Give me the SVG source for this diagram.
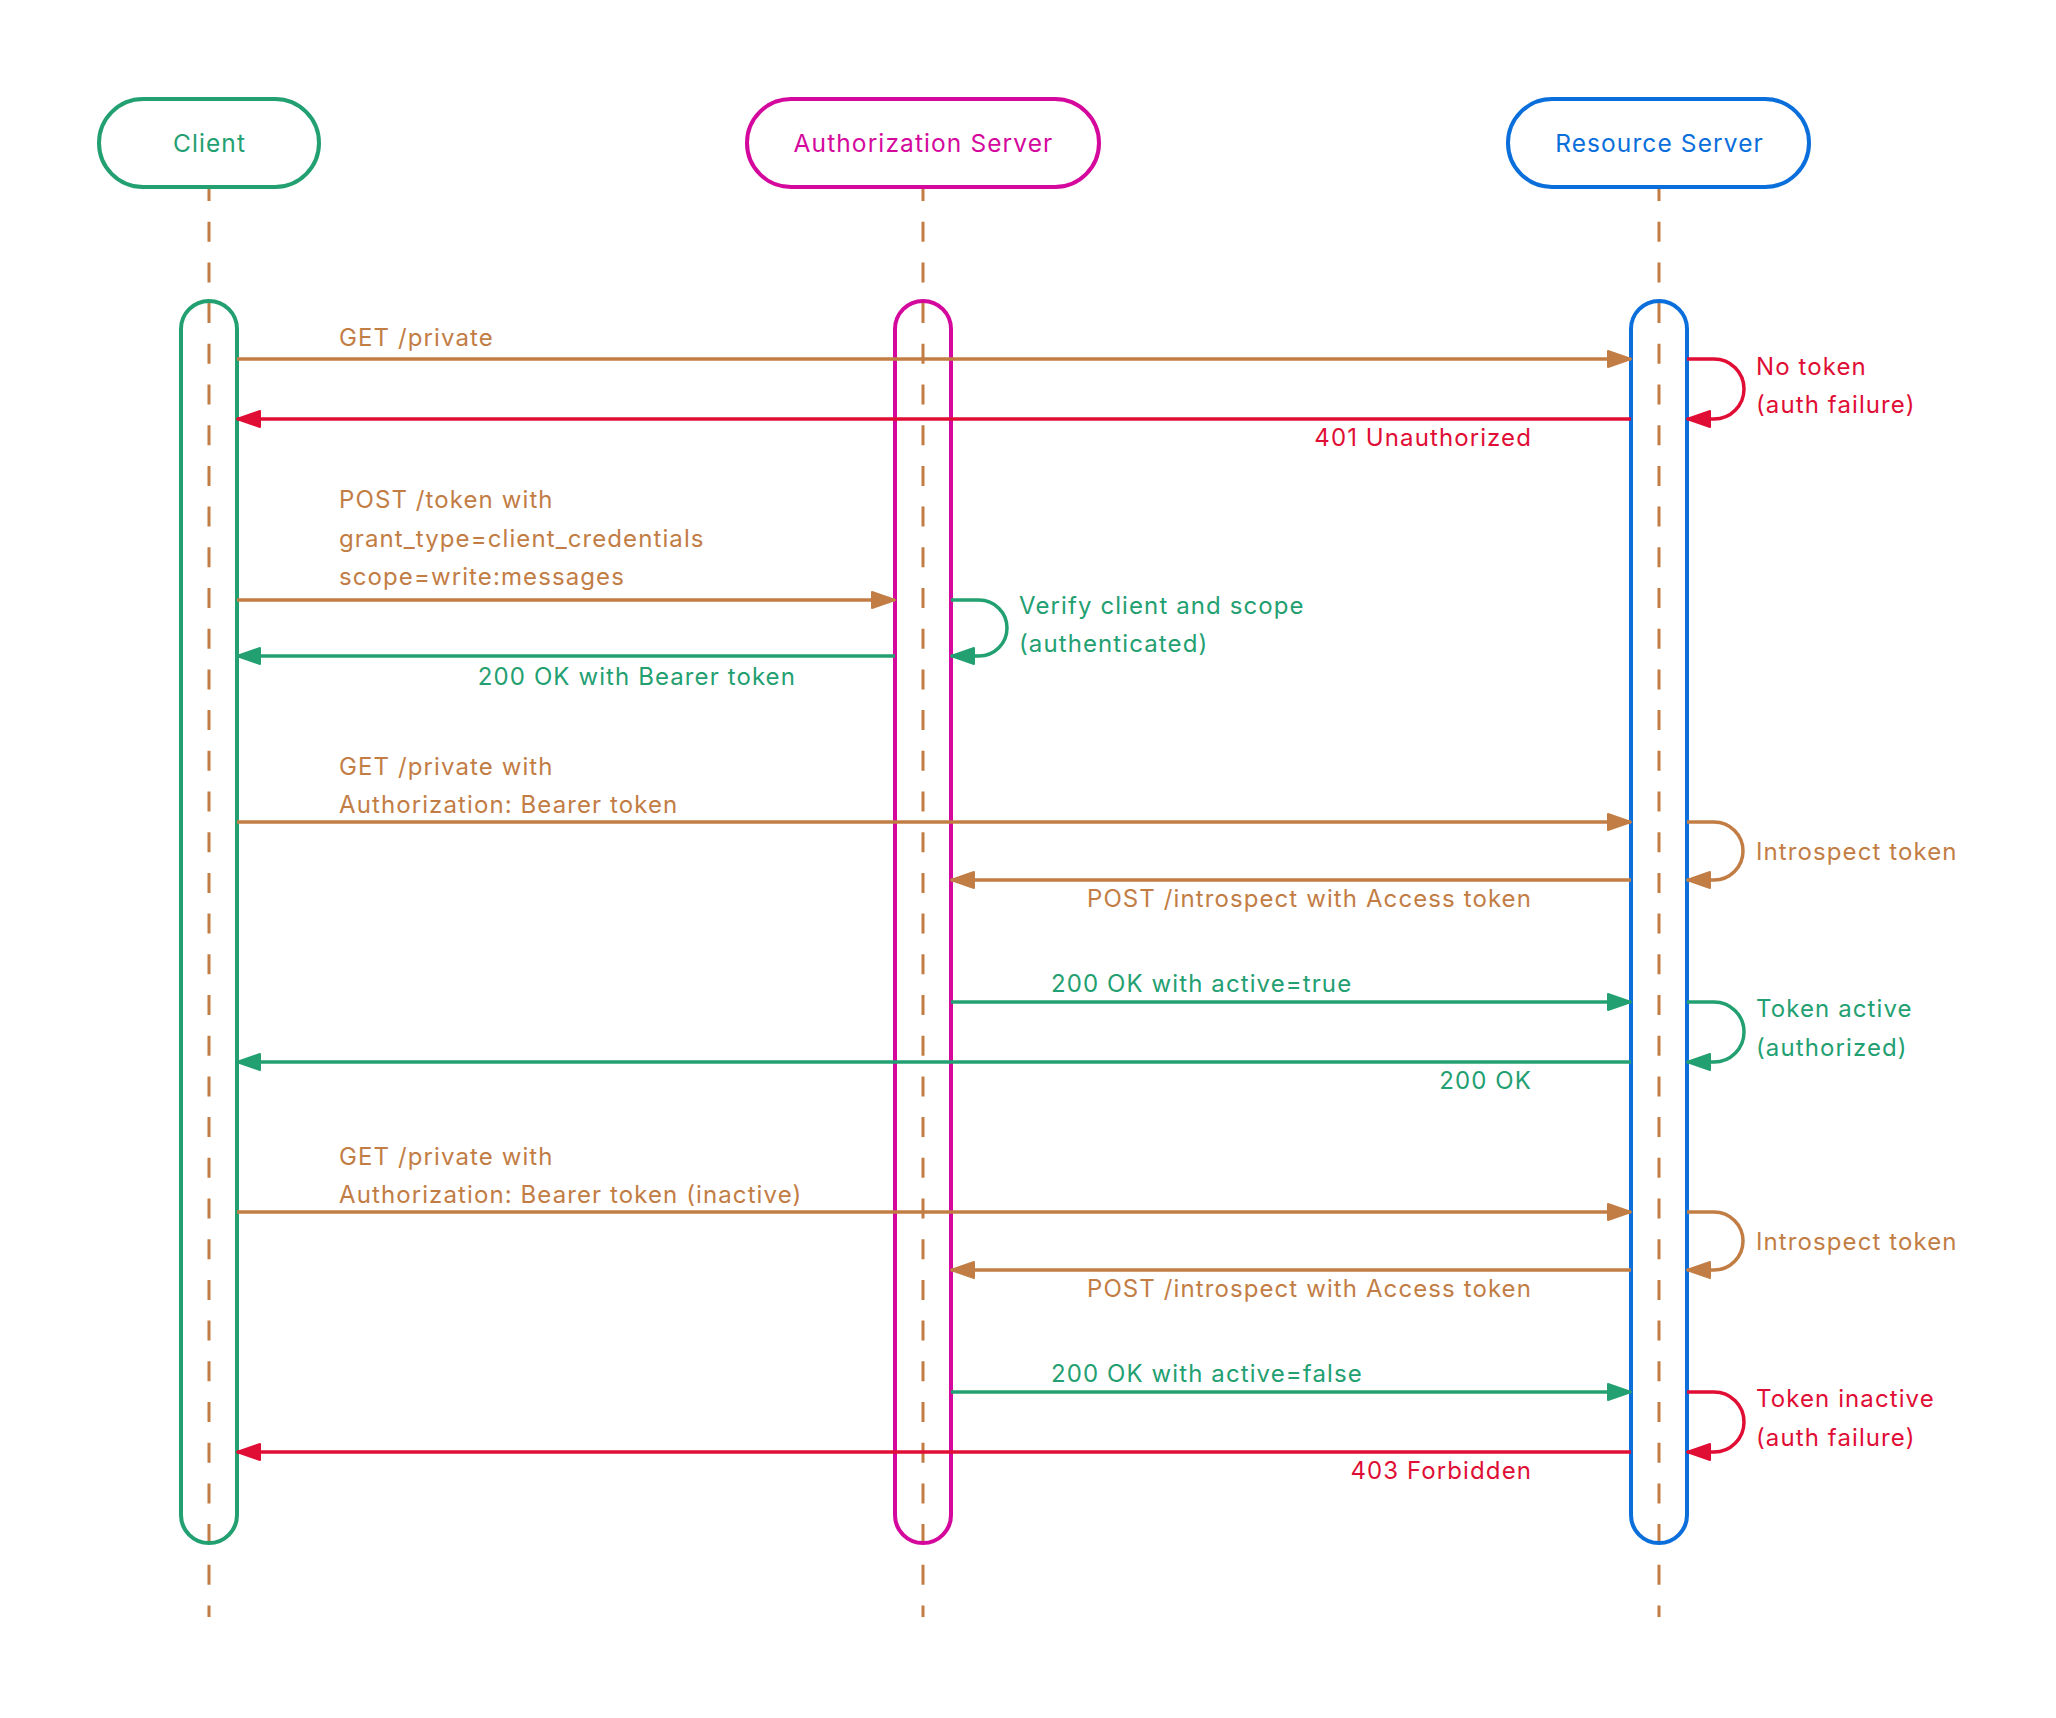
<svg xmlns="http://www.w3.org/2000/svg" width="2056" height="1718" viewBox="0 0 2056 1718">
  <style>
    text { font-family: Inter, "Noto Sans", "Liberation Sans", sans-serif; font-size: 24px; letter-spacing: 1.1px; }
    .head { font-size: 24.5px; text-anchor: middle; }
    .end { text-anchor: end; }
    .life { fill: none; stroke: #C27D45; stroke-width: 3; stroke-dasharray: 20 20.7; }
    .msg { fill: none; stroke-width: 3.5; }
    .o { stroke: #C27D45; }
    .g { stroke: #23A071; }
    .r { stroke: #E00D35; }
    .to { fill: #C27D45; }
    .tg { fill: #23A071; }
    .tr { fill: #E00D35; }
  </style>
  <defs>
    <marker id="ah-o" markerUnits="userSpaceOnUse" markerWidth="26" markerHeight="20" refX="24" refY="9" orient="auto" viewBox="-1 -1 26 20">
      <path d="M1,1 L24,9 L1,17 z" fill="#C27D45" stroke="#C27D45" stroke-width="2" stroke-linejoin="round"/>
    </marker>
    <marker id="ah-g" markerUnits="userSpaceOnUse" markerWidth="26" markerHeight="20" refX="24" refY="9" orient="auto" viewBox="-1 -1 26 20">
      <path d="M1,1 L24,9 L1,17 z" fill="#23A071" stroke="#23A071" stroke-width="2" stroke-linejoin="round"/>
    </marker>
    <marker id="ah-r" markerUnits="userSpaceOnUse" markerWidth="26" markerHeight="20" refX="24" refY="9" orient="auto" viewBox="-1 -1 26 20">
      <path d="M1,1 L24,9 L1,17 z" fill="#E00D35" stroke="#E00D35" stroke-width="2" stroke-linejoin="round"/>
    </marker>
  </defs>
  <rect width="2056" height="1718" fill="#FFFFFF"/>

  <!-- lifelines -->
  <g id="lifelines">
    <line class="life" x1="209" y1="181" x2="209" y2="1617"/>
    <line class="life" x1="923" y1="181" x2="923" y2="1617"/>
    <line class="life" x1="1659" y1="181" x2="1659" y2="1617"/>
  </g>

  <!-- participants -->
  <g id="client">
    <rect x="99" y="99" width="220" height="88" rx="44" fill="#FFFFFF" stroke="#23A071" stroke-width="4"/>
    <text class="head tg" x="209.5" y="152">Client</text>
    <rect x="181" y="301" width="56" height="1242" rx="28" fill="none" stroke="#23A071" stroke-width="4"/>
  </g>
  <g id="authorization-server">
    <rect x="747" y="99" width="352" height="88" rx="44" fill="#FFFFFF" stroke="#D4089C" stroke-width="4"/>
    <text class="head" x="923.5" y="152" fill="#D4089C">Authorization Server</text>
    <rect x="895" y="301" width="56" height="1242" rx="28" fill="none" stroke="#D4089C" stroke-width="4"/>
  </g>
  <g id="resource-server">
    <rect x="1508" y="99" width="301" height="88" rx="44" fill="#FFFFFF" stroke="#0A6FDB" stroke-width="4"/>
    <text class="head" x="1659.5" y="152" fill="#0A6FDB">Resource Server</text>
    <rect x="1631" y="301" width="56" height="1242" rx="28" fill="none" stroke="#0A6FDB" stroke-width="4"/>
  </g>

  <!-- messages -->
  <g id="connectors">
    <!-- 1: unauthenticated request -->
    <path class="msg o" d="M237,359 H1631" marker-end="url(#ah-o)"/>
    <path class="msg r" d="M1687,359 H1714 A30,30 0 0 1 1714,419 H1687" marker-end="url(#ah-r)"/>
    <path class="msg r" d="M1631,419 H237" marker-end="url(#ah-r)"/>

    <!-- 2: token request -->
    <path class="msg o" d="M237,600 H895" marker-end="url(#ah-o)"/>
    <path class="msg g" d="M951,600 H979 A28,28 0 0 1 979,656 H951" marker-end="url(#ah-g)"/>
    <path class="msg g" d="M895,656 H237" marker-end="url(#ah-g)"/>

    <!-- 3: request with active token -->
    <path class="msg o" d="M237,822 H1631" marker-end="url(#ah-o)"/>
    <path class="msg o" d="M1687,822 H1714 A29,29 0 0 1 1714,880 H1687" marker-end="url(#ah-o)"/>
    <path class="msg o" d="M1631,880 H951" marker-end="url(#ah-o)"/>
    <path class="msg g" d="M951,1002 H1631" marker-end="url(#ah-g)"/>
    <path class="msg g" d="M1687,1002 H1714 A30,30 0 0 1 1714,1062 H1687" marker-end="url(#ah-g)"/>
    <path class="msg g" d="M1631,1062 H237" marker-end="url(#ah-g)"/>

    <!-- 4: request with inactive token -->
    <path class="msg o" d="M237,1212 H1631" marker-end="url(#ah-o)"/>
    <path class="msg o" d="M1687,1212 H1714 A29,29 0 0 1 1714,1270 H1687" marker-end="url(#ah-o)"/>
    <path class="msg o" d="M1631,1270 H951" marker-end="url(#ah-o)"/>
    <path class="msg g" d="M951,1392 H1631" marker-end="url(#ah-g)"/>
    <path class="msg r" d="M1687,1392 H1714 A30,30 0 0 1 1714,1452 H1687" marker-end="url(#ah-r)"/>
    <path class="msg r" d="M1631,1452 H237" marker-end="url(#ah-r)"/>
  </g>

  <!-- message labels -->
  <g id="labels">
    <text class="to" x="339" y="346">GET /private</text>
    <text class="tr" x="1756" y="375">No token</text>
    <text class="tr" x="1756" y="413">(auth failure)</text>
    <text class="tr end" x="1532" y="446">401 Unauthorized</text>

    <text class="to" x="339" y="508">POST /token with</text>
    <text class="to" x="339" y="547">grant_type=client_credentials</text>
    <text class="to" x="339" y="585">scope=write:messages</text>
    <text class="tg" x="1019" y="614">Verify client and scope</text>
    <text class="tg" x="1019" y="652">(authenticated)</text>
    <text class="tg end" x="796" y="685">200 OK with Bearer token</text>

    <text class="to" x="339" y="775">GET /private with</text>
    <text class="to" x="339" y="813">Authorization: Bearer token</text>
    <text class="to" x="1756" y="860">Introspect token</text>
    <text class="to end" x="1532" y="907">POST /introspect with Access token</text>
    <text class="tg" x="1051" y="992">200 OK with active=true</text>
    <text class="tg" x="1756" y="1017">Token active</text>
    <text class="tg" x="1756" y="1056">(authorized)</text>
    <text class="tg end" x="1532" y="1089">200 OK</text>

    <text class="to" x="339" y="1165">GET /private with</text>
    <text class="to" x="339" y="1203">Authorization: Bearer token (inactive)</text>
    <text class="to" x="1756" y="1250">Introspect token</text>
    <text class="to end" x="1532" y="1297">POST /introspect with Access token</text>
    <text class="tg" x="1051" y="1382">200 OK with active=false</text>
    <text class="tr" x="1756" y="1407">Token inactive</text>
    <text class="tr" x="1756" y="1446">(auth failure)</text>
    <text class="tr end" x="1532" y="1479">403 Forbidden</text>
  </g>
</svg>
